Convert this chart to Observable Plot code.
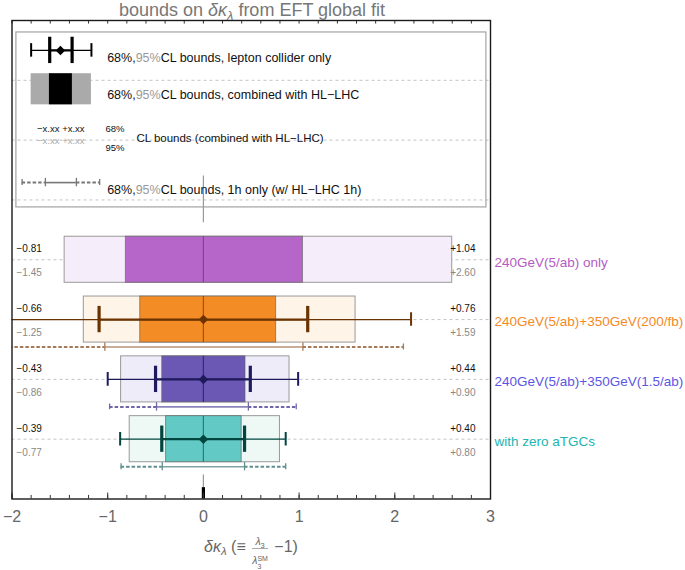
<!DOCTYPE html>
<html><head><meta charset="utf-8">
<script src="https://cdn.jsdelivr.net/npm/d3@7"></script>
<script src="https://cdn.jsdelivr.net/npm/@observablehq/plot@0.6"></script>
<style>
body{margin:0;background:#fff;font-family:"Liberation Sans",Arial,sans-serif}
#wrap{position:relative;width:685px;height:570px;overflow:hidden}
#title{position:absolute;left:0;width:504px;top:0px;text-align:center;font-size:18px;line-height:20px;color:#777;white-space:nowrap}
#title sub{font-size:0.72em;vertical-align:-0.28em;line-height:0}
#xlabel{position:absolute;left:0;width:502px;top:536px;text-align:center;font-size:16px;line-height:20px;color:#666;white-space:nowrap}
#xlabel sub.m{font-size:0.72em;vertical-align:-0.28em;line-height:0}
.frac{display:inline-block;vertical-align:-12px;text-align:center;font-size:10.5px;line-height:11px;margin:0 2px}
.frac .num{display:block;padding:0 1px 1px 1px;border-bottom:1px solid #aaa}
.frac .den{display:block;padding-top:6px}
.frac sub{font-size:7.5px;vertical-align:-3px;line-height:0}
.ss{display:inline-flex;flex-direction:column;font-size:7px;line-height:8px;vertical-align:3px;text-align:left}
</style></head><body>
<div id="wrap">
<div id="chart"></div>
<div id="title">bounds on <i>δκ</i><sub><i>λ</i></sub> from EFT global fit</div>
<div id="xlabel"><i>δκ</i><sub class="m"><i>λ</i></sub> (≡ <span class="frac"><span class="num"><i>λ</i><sub>3</sub></span><span class="den"><i>λ</i><span class="ss"><span>SM</span><span>3</span></span></span></span> −1)</div>
</div>
<script>
// ---------- data ----------
const scenarios = ["240GeV(5/ab) only", "240GeV(5/ab)+350GeV(200/fb)", "240GeV(5/ab)+350GeV(1.5/ab)", "with zero aTGCs"];
const rowPos   = [4, 3, 2, 1];
const center   = [0, 0, 0, 0];
// combined with HL-LHC
const lo68 = [-0.81, -0.66, -0.43, -0.39];
const hi68 = [ 1.04,  0.76,  0.44,  0.40];
const lo95 = [-1.45, -1.25, -0.86, -0.77];
const hi95 = [ 2.60,  1.59,  0.90,  0.80];
// lepton collider only
const lep68lo = [null, -1.09, -0.50, -0.435];
const lep68hi = [null,  1.09,  0.49,  0.43];
const lep95lo = [null, -2.30, -1.00, -0.87];
const lep95hi = [null,  2.17,  0.99,  0.86];
// 1h only (w/ HL-LHC 1h)
const h68lo = [null, -1.03, -0.49, -0.43];
const h68hi = [null,  1.04,  0.47,  0.43];
const h95lo = [null, -2.20, -0.98, -0.86];
const h95hi = [null,  2.09,  0.97,  0.86];
// colours
const darkFill  = ["#b666c8", "#f48c26", "#6b58b4", "#62c9c4"];
const lightFill = ["#f5eefa", "#fef4e8", "#efecfa", "#eef8f5"];
const medianCol = ["#7a3d8c", "#8a4a14", "#2c2468", "#2a6b68"];
const errCol    = ["#000000", "#6a3300", "#1e1a5c", "#00463f"];
const dashCol   = ["#999999", "#a57a58", "#6f66a8", "#5f8f8c"];
const labelCol  = ["#b45cc4", "#f5891f", "#5b55e6", "#21b5b0"];
// axis ticks
const majorTicks = [-2, -1, 0, 1, 2, 3];
const minorTicks = d3.range(-20, 31, 2).map(d => d / 10);
const gridRows = [1, 2, 3, 4, 5, 6, 7];
// legend
const legendTexts = ["68%,95%CL bounds, lepton collider only", "68%,95%CL bounds, combined with HL−LHC", "68%,95%CL bounds, 1h only (w/ HL−LHC 1h)"];

// ---------- table ----------
const table = scenarios.map((s, i) => ({
  name: s, row: rowPos[i], c: center[i],
  lo68: lo68[i], hi68: hi68[i], lo95: lo95[i], hi95: hi95[i],
  l68lo: lep68lo[i], l68hi: lep68hi[i], l95lo: lep95lo[i], l95hi: lep95hi[i],
  h68lo: h68lo[i], h68hi: h68hi[i], h95lo: h95lo[i], h95hi: h95hi[i],
  dark: darkFill[i], light: lightFill[i], med: medianCol[i], err: errCol[i], dash: dashCol[i], lab: labelCol[i]
}));
const withLep = table.filter(d => d.l68lo != null);
const withH = table.filter(d => d.h68lo != null);
const fmt = d3.format("+.2f");

// layout constants (units of the y scale)
const BH = 0.385;   // half box height
const capThin = 0.113, capThick = 0.22;
const HDY = 27.5;   // pixel offset of 1h line below row

// legend layout
const LY = {r1: 7.50, r1t: 7.38, r2: 6.85, r2t: 6.75, r3a: 6.18, r3b: 5.98, r3p68: 6.18, r3p95: 5.87, r3t: 6.03, r4: 5.29, r4t: 5.17};
const LX = {text: -1.006};

const F = "Liberation Sans, Arial, sans-serif";

const chart = Plot.plot({
  width: 685, height: 570,
  marginLeft: 11.5, marginRight: 195, marginTop: 20, marginBottom: 71.5,
  x: {domain: [-2, 3]},
  y: {domain: [0, 8], axis: null},
  style: {fontFamily: F, background: "white", overflow: "visible"},
  marks: [
    // grid
    Plot.ruleY(gridRows, {stroke: "#c4c4c4", strokeDasharray: "3,3", strokeWidth: 1}),
    // legend box
    Plot.rect([0], {x1: -1.954, x2: 2.957, y1: 4.875, y2: 7.80, fill: "none", stroke: "#aaa", strokeWidth: 1.3}),
    // vertical markers at 0
    Plot.ruleX([0], {y1: 4.62, y2: 5.4, stroke: "#999", strokeWidth: 1.2}),
    Plot.ruleX([0], {y1: 0.19, y2: 0.4, stroke: "#999", strokeWidth: 1.2}),
    Plot.ruleX([0], {y1: 0, y2: 0.19, stroke: "#000", strokeWidth: 3.2}),
    // 95% boxes
    Plot.rect(table, {x1: "lo95", x2: "hi95", y1: d => d.row - BH, y2: d => d.row + BH, fill: "light", stroke: "#999", strokeWidth: 1}),
    // 68% boxes
    Plot.rect(table, {x1: "lo68", x2: "hi68", y1: d => d.row - BH, y2: d => d.row + BH, fill: "dark", stroke: "#666", strokeOpacity: 0.7, strokeWidth: 1}),
    // median line
    Plot.ruleX(table, {x: "c", y1: d => d.row - BH, y2: d => d.row + BH, stroke: "med", strokeWidth: 1.2, strokeOpacity: 0.85}),
    // 1h only lines
    Plot.ruleY(withH, {y: "row", x1: "h95lo", x2: "h68lo", dy: HDY, stroke: "dash", strokeWidth: 2, strokeDasharray: "3.5,2", clip: true}),
    Plot.ruleY(withH, {y: "row", x1: "h68hi", x2: "h95hi", dy: HDY, stroke: "dash", strokeWidth: 2, strokeDasharray: "3.5,2", clip: true}),
    Plot.ruleY(withH, {y: "row", x1: "h68lo", x2: "h68hi", dy: HDY, stroke: "dash", strokeWidth: 1.6, strokeOpacity: 0.8}),
    Plot.ruleX(withH, {x: "h68lo", y1: d => d.row - 0.07, y2: d => d.row + 0.07, dy: HDY, stroke: "dash", strokeWidth: 1.3}),
    Plot.ruleX(withH, {x: "h68hi", y1: d => d.row - 0.07, y2: d => d.row + 0.07, dy: HDY, stroke: "dash", strokeWidth: 1.3}),
    Plot.ruleX(withH, {x: "h95lo", y1: d => d.row - 0.05, y2: d => d.row + 0.05, dy: HDY, stroke: "dash", strokeWidth: 1.3, clip: true}),
    Plot.ruleX(withH, {x: "h95hi", y1: d => d.row - 0.05, y2: d => d.row + 0.05, dy: HDY, stroke: "dash", strokeWidth: 1.3, clip: true}),
    // lepton-only error bars
    Plot.ruleY(withLep, {y: "row", x1: "l95lo", x2: "l95hi", stroke: "err", strokeWidth: 1.2, clip: true}),
    Plot.ruleY(withLep, {y: "row", x1: "l68lo", x2: "l68hi", stroke: "err", strokeWidth: 2.2}),
    Plot.ruleX(withLep, {x: "l95lo", y1: d => d.row - capThin, y2: d => d.row + capThin, stroke: "err", strokeWidth: 2, clip: true}),
    Plot.ruleX(withLep, {x: "l95hi", y1: d => d.row - capThin, y2: d => d.row + capThin, stroke: "err", strokeWidth: 2, clip: true}),
    Plot.ruleX(withLep, {x: "l68lo", y1: d => d.row - capThick, y2: d => d.row + capThick, stroke: "err", strokeWidth: 3.2}),
    Plot.ruleX(withLep, {x: "l68hi", y1: d => d.row - capThick, y2: d => d.row + capThick, stroke: "err", strokeWidth: 3.2}),
    Plot.dot(withLep, {x: "c", y: "row", symbol: "diamond2", r: 4.3, fill: "err", stroke: "none"}),
    // numeric labels
    Plot.text(table, {x: -2, y: "row", text: d => fmt(d.lo68), dx: 4.5, dy: -10.5, textAnchor: "start", fontSize: 10, fill: "#111"}),
    Plot.text(table, {x: -2, y: "row", text: d => fmt(d.lo95), dx: 4.5, dy: 13.5, textAnchor: "start", fontSize: 10, fill: "#888"}),
    Plot.text(table, {x: 3, y: "row", text: d => fmt(d.hi68), dx: -15, dy: -10.5, textAnchor: "end", fontSize: 10, fill: "#111"}),
    Plot.text(table, {x: 3, y: "row", text: d => fmt(d.hi95), dx: -15, dy: 13.5, textAnchor: "end", fontSize: 10, fill: "#888"}),
    // scenario labels
    Plot.text(table, {x: 3, y: "row", text: "name", dx: 4, dy: 2.5, textAnchor: "start", fontSize: 13.5, fill: "lab"}),
    // legend row 1: error bar icon
    Plot.ruleY([LY.r1], {x1: -1.800, x2: -1.170, stroke: "#000", strokeWidth: 1.2}),
    Plot.ruleY([LY.r1], {x1: -1.606, x2: -1.372, stroke: "#000", strokeWidth: 2.2}),
    Plot.ruleX([-1.800, -1.170], {y1: LY.r1 - capThin, y2: LY.r1 + capThin, stroke: "#000", strokeWidth: 2}),
    Plot.ruleX([-1.606, -1.372], {y1: LY.r1 - capThick, y2: LY.r1 + capThick, stroke: "#000", strokeWidth: 3.2}),
    Plot.dot([-1.494], {x: d => d, y: LY.r1, symbol: "diamond2", r: 4.3, fill: "#000", stroke: "none"}),
    // legend row 2: boxes
    Plot.rect([0], {x1: -1.800, x2: -1.170, y1: LY.r2 - 0.26, y2: LY.r2 + 0.26, fill: "#aaa"}),
    Plot.rect([0], {x1: -1.609, x2: -1.369, y1: LY.r2 - 0.26, y2: LY.r2 + 0.26, fill: "#000"}),
    // legend row 3
    Plot.text(["−x.xx +x.xx"], {x: -1.738, y: LY.r3a, text: d => d, textAnchor: "start", fontSize: 9.5, fill: "#111"}),
    Plot.text(["−x.xx +x.xx"], {x: -1.738, y: LY.r3b, text: d => d, textAnchor: "start", fontSize: 9.5, fill: "#aaa"}),
    Plot.text(["68%"], {x: -1.024, y: LY.r3p68, text: d => d, textAnchor: "start", fontSize: 9.5, fill: "#111"}),
    Plot.text(["95%"], {x: -1.024, y: LY.r3p95, text: d => d, textAnchor: "start", fontSize: 9.5, fill: "#111"}),
    Plot.text(["CL bounds (combined with HL−LHC)"], {x: -0.700, y: LY.r3t, text: d => d, textAnchor: "start", fontSize: 11.5, fill: "#111"}),
    // legend row 4: 1h line icon
    Plot.ruleY([LY.r4], {x1: -1.894, x2: -1.651, stroke: "#777", strokeWidth: 2, strokeDasharray: "3.5,2"}),
    Plot.ruleY([LY.r4], {x1: -1.327, x2: -1.084, stroke: "#777", strokeWidth: 2, strokeDasharray: "3.5,2"}),
    Plot.ruleY([LY.r4], {x1: -1.651, x2: -1.327, stroke: "#777", strokeWidth: 1.6}),
    Plot.ruleX([-1.651, -1.327], {y1: LY.r4 - 0.07, y2: LY.r4 + 0.07, stroke: "#777", strokeWidth: 1.3}),
    Plot.ruleX([-1.894, -1.084], {y1: LY.r4 - 0.05, y2: LY.r4 + 0.05, stroke: "#777", strokeWidth: 1.3}),
    // legend texts
    Plot.text([legendTexts[0]], {x: LX.text, y: LY.r1t, text: d => d, textAnchor: "start", fontSize: 12.5, fill: "#111"}),
    Plot.text([legendTexts[1]], {x: LX.text, y: LY.r2t, text: d => d, textAnchor: "start", fontSize: 12.5, fill: "#111"}),
    Plot.text([legendTexts[2]], {x: LX.text, y: LY.r4t, text: d => d, textAnchor: "start", fontSize: 12.5, fill: "#111"}),
    // ticks
    Plot.ruleX(minorTicks, {y1: 0, y2: 0.06, stroke: "#333", strokeWidth: 1}),
    Plot.ruleX(minorTicks, {y1: 8, y2: 7.94, stroke: "#333", strokeWidth: 1}),
    Plot.ruleX(majorTicks, {y1: 0, y2: 0.1, stroke: "#333", strokeWidth: 1}),
    Plot.axisX(majorTicks, {anchor: "bottom", tickSize: 0, tickPadding: 12, fontSize: 16, color: "#666", label: null}),
    Plot.frame({stroke: "#1a1a1a", strokeWidth: 1.4})
  ]
});
document.getElementById("chart").appendChild(chart);

// colour the "95%" part of the legend labels
d3.select(chart).selectAll("text").each(function () {
  const t = this.textContent;
  if (t.startsWith("68%,95%CL")) {
    const s = d3.select(this);
    s.text("");
    s.append("tspan").text("68%,");
    s.append("tspan").attr("fill", "#999").text("95%");
    s.append("tspan").text(t.slice(7));
  }
});
</script>
</body></html>
